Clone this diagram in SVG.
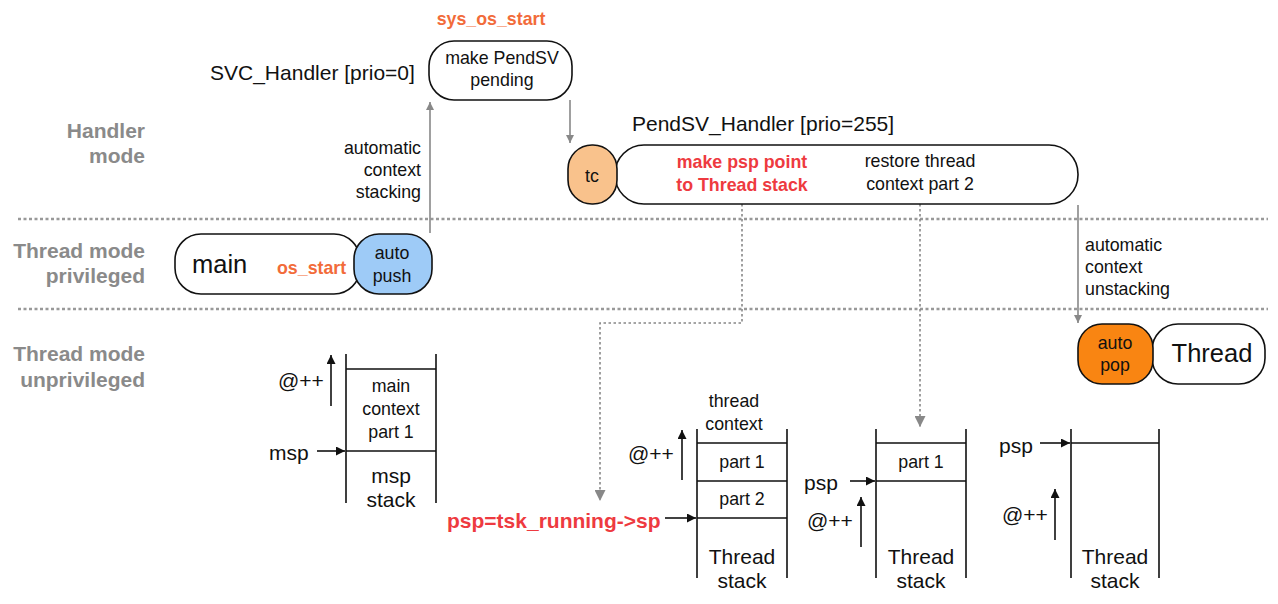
<svg xmlns="http://www.w3.org/2000/svg" width="1278" height="604" viewBox="0 0 1278 604">
<defs>
<style>
text{font-family:"Liberation Sans",Arial,sans-serif;fill:#111}
.mode{font-size:21px;font-weight:bold;fill:#8a8a8a;text-anchor:end}
.sep{stroke:#999;stroke-width:2.5;stroke-dasharray:3,2.5;fill:none}
.box{stroke:#111;stroke-width:1.6}
.t16{font-size:17.8px}
.t19{font-size:21px}
.big{font-size:25.5px}
.c{text-anchor:middle}
.orange{fill:#f26b3a;font-weight:bold}
.red{fill:#ee3a40;font-weight:bold}
.gline{stroke:#888;stroke-width:1.6;fill:none}
.gdash{stroke:#888;stroke-width:1.6;stroke-dasharray:2.5,2.5;fill:none}
.bline{stroke:#111;stroke-width:1.6;fill:none}
</style>
<marker id="ga" viewBox="0 0 10 10" refX="10" refY="5" markerWidth="8" markerHeight="8" markerUnits="userSpaceOnUse" orient="auto"><path d="M0,0 L10,5 L0,10 z" fill="#888"/></marker>
<marker id="gb" viewBox="0 0 10 10" refX="10" refY="5" markerWidth="11" markerHeight="11" markerUnits="userSpaceOnUse" orient="auto"><path d="M0,0 L10,5 L0,10 z" fill="#888"/></marker>
<marker id="ba" viewBox="0 0 10 10" refX="10" refY="5" markerWidth="10" markerHeight="9" markerUnits="userSpaceOnUse" orient="auto"><path d="M0,0 L10,5 L0,10 z" fill="#111"/></marker>
</defs>

<g id="separators">
<line class="sep" x1="18" y1="219" x2="1268" y2="219"/>
<line class="sep" x1="18" y1="309" x2="1268" y2="309"/>
</g>

<g id="mode-labels">
<text class="mode" x="145" y="138">Handler</text>
<text class="mode" x="145" y="163">mode</text>
<text class="mode" x="145" y="258">Thread mode</text>
<text class="mode" x="145" y="283">privileged</text>
<text class="mode" x="145" y="361">Thread mode</text>
<text class="mode" x="145" y="387">unprivileged</text>
</g>

<g id="connectors">
<line class="gline" x1="430" y1="233" x2="430" y2="102" marker-end="url(#ga)"/>
<line class="gline" x1="570" y1="100" x2="570" y2="143" marker-end="url(#ga)"/>
<line class="gline" x1="1078" y1="205" x2="1078" y2="323" marker-end="url(#ga)"/>
<path class="gdash" d="M742,204 V323 H600 V501" marker-end="url(#gb)"/>
<line class="gdash" x1="920" y1="204" x2="920" y2="427" marker-end="url(#gb)"/>
</g>

<g id="svc">
<text class="t19" x="210" y="80">SVC_Handler [prio=0]</text>
<text class="t16 orange" x="491" y="25" text-anchor="middle">sys_os_start</text>
<rect class="box" x="429" y="41" width="143" height="59" rx="25" fill="#fff"/>
<text class="t16 c" x="502" y="64">make PendSV</text>
<text class="t16 c" x="502" y="86">pending</text>
<text class="t16" x="421" y="154" text-anchor="end">automatic</text>
<text class="t16" x="421" y="176" text-anchor="end">context</text>
<text class="t16" x="421" y="198" text-anchor="end">stacking</text>
</g>

<g id="pendsv">
<text class="t19" x="632" y="131">PendSV_Handler [prio=255]</text>
<rect class="box" x="615" y="145" width="463" height="59" rx="29" fill="#fff"/>
<text class="t16 red c" x="742" y="168">make psp point</text>
<text class="t16 red c" x="742" y="191">to Thread stack</text>
<text class="t16 c" x="920" y="167">restore thread</text>
<text class="t16 c" x="920" y="190">context part 2</text>
</g>

<g id="tc">
<rect class="box" x="568" y="145" width="49" height="59" rx="24" fill="#f9c28c"/>
<text class="t16 c" x="592" y="182">tc</text>
</g>

<g id="main">
<rect class="box" x="175" y="234" width="185" height="60" rx="26" fill="#fff"/>
<text class="big" x="192" y="273">main</text>
<text class="t16 orange" x="277" y="274">os_start</text>
</g>

<g id="autopush">
<rect class="box" x="354" y="234" width="78" height="60" rx="25" fill="#9ecbf7"/>
<text class="t16 c" x="392" y="259">auto</text>
<text class="t16 c" x="392" y="282">push</text>
</g>
<text class="t16" x="1085" y="251">automatic</text>
<text class="t16" x="1085" y="273">context</text>
<text class="t16" x="1085" y="295">unstacking</text>

<g id="thread">
<rect class="box" x="1152" y="324" width="113" height="60" rx="26" fill="#fff"/>
<text class="big c" x="1212" y="362">Thread</text>
</g>
<g id="autopop">
<rect class="box" x="1078" y="324" width="75" height="60" rx="24" fill="#f98512"/>
<text class="t16 c" x="1115" y="349">auto</text>
<text class="t16 c" x="1115" y="371">pop</text>
</g>

<g id="msp-stack">
<path class="bline" d="M346,354 V503 M436,354 V503 M346,369 H436 M346,451 H436"/>
<text class="t16 c" x="391" y="392">main</text>
<text class="t16 c" x="391" y="415">context</text>
<text class="t16 c" x="391" y="438">part 1</text>
<text class="t19 c" x="391" y="483">msp</text>
<text class="t19 c" x="391" y="507">stack</text>
<line class="bline" x1="331" y1="406" x2="331" y2="355" marker-end="url(#ba)"/>
<text class="t19" x="278" y="388">@++</text>
<text class="t19" x="269" y="460">msp</text>
<line class="bline" x1="317" y1="451" x2="345" y2="451" marker-end="url(#ba)"/>
</g>

<g id="thread-stack-1">
<path class="bline" d="M697,429 V578 M787,429 V578 M697,443 H787 M697,481 H787 M697,518 H787"/>
<text class="t16 c" x="734" y="407">thread</text>
<text class="t16 c" x="734" y="430">context</text>
<text class="t16 c" x="742" y="468">part 1</text>
<text class="t16 c" x="742" y="505">part 2</text>
<text class="t19 c" x="742" y="564">Thread</text>
<text class="t19 c" x="742" y="588">stack</text>
<line class="bline" x1="682" y1="480" x2="682" y2="430" marker-end="url(#ba)"/>
<text class="t19" x="628" y="461">@++</text>
<text class="t19 red" x="447" y="528">psp=tsk_running-&gt;sp</text>
<line class="bline" x1="665" y1="518" x2="696" y2="518" marker-end="url(#ba)"/>
</g>

<g id="thread-stack-2">
<path class="bline" d="M876,429 V578 M966,429 V578 M876,443 H966 M876,481 H966"/>
<text class="t16 c" x="921" y="468">part 1</text>
<text class="t19 c" x="921" y="564">Thread</text>
<text class="t19 c" x="921" y="588">stack</text>
<text class="t19" x="804" y="490">psp</text>
<line class="bline" x1="850" y1="481" x2="875" y2="481" marker-end="url(#ba)"/>
<text class="t19" x="807" y="528">@++</text>
<line class="bline" x1="861" y1="547" x2="861" y2="497" marker-end="url(#ba)"/>
</g>

<g id="thread-stack-3">
<path class="bline" d="M1071,429 V578 M1159,429 V578 M1071,443 H1159"/>
<text class="t19 c" x="1115" y="564">Thread</text>
<text class="t19 c" x="1115" y="588">stack</text>
<text class="t19" x="999" y="453">psp</text>
<line class="bline" x1="1040" y1="443" x2="1070" y2="443" marker-end="url(#ba)"/>
<text class="t19" x="1002" y="522">@++</text>
<line class="bline" x1="1055" y1="540" x2="1055" y2="489" marker-end="url(#ba)"/>
</g>
</svg>
